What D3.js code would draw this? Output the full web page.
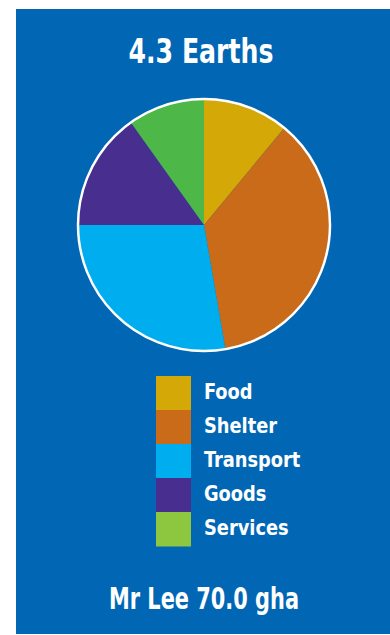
<!DOCTYPE html>
<html lang="en">
<head>
  <meta charset="UTF-8" />
  <title>Footprint pie</title>
  <style>
    body { margin: 0; background: #fff; }
    svg text { font-family: "DejaVu Sans Condensed", "DejaVu Sans", sans-serif; font-weight: bold; fill: #fff; }
  </style>
</head>
<body>
  <div id="chart"></div>
  <script src="https://d3js.org/d3.v7.min.js"></script>
  <script>
    // data (gha)
    const categories = ['Food', 'Shelter', 'Transport', 'Goods', 'Services'];
    const values = [7.7, 25.4, 19.4, 10.6, 6.9];
    const sliceColors = ['#d4a807', '#c96b19', '#00aeef', '#482e8f', '#4db848'];
    const legendColors = ['#d4a807', '#c96b19', '#00aeef', '#482e8f', '#8dc63f'];
    const title = '4.3 Earths';
    const footer = 'Mr Lee 70.0 gha';

    const width = 390, height = 635;
    const panel = { x: 16, y: 9, w: 374, h: 625 };
    const cx = 204, cy = 225, radius = 126;

    const svg = d3.select('#chart').append('svg')
      .attr('width', width)
      .attr('height', height);

    svg.append('rect')
      .attr('x', panel.x).attr('y', panel.y)
      .attr('width', panel.w).attr('height', panel.h)
      .attr('fill', '#0167b4');

    svg.append('text')
      .attr('x', 201).attr('y', 63)
      .attr('text-anchor', 'middle')
      .attr('font-size', 34)
      .attr('textLength', 145).attr('lengthAdjust', 'spacingAndGlyphs')
      .text(title);

    // pie
    const pie = d3.pie().sort(null).value(d => d);
    const arc = d3.arc().innerRadius(0).outerRadius(radius);
    const pg = svg.append('g').attr('transform', `translate(${cx},${cy})`);

    pg.selectAll('path')
      .data(pie(values))
      .enter().append('path')
        .attr('d', arc)
        .attr('fill', (d, i) => sliceColors[i]);

    pg.append('circle')
      .attr('r', radius)
      .attr('fill', 'none')
      .attr('stroke', '#fff')
      .attr('stroke-width', 2.5);

    // legend
    const y = d3.scaleBand().domain(categories).range([376, 546]);
    const lg = svg.append('g');
    lg.selectAll('rect')
      .data(categories)
      .enter().append('rect')
        .attr('x', 156)
        .attr('y', d => y(d))
        .attr('width', 35)
        .attr('height', y.bandwidth() + 0.5)
        .attr('fill', (d, i) => legendColors[i]);

    lg.selectAll('text')
      .data(categories)
      .enter().append('text')
        .attr('x', 204)
        .attr('y', d => y(d) + 22.5)
        .attr('font-size', 22)
        .text(d => d)
        .each(function() {
          // squeeze a bit, the original face is narrower
          const w = this.getComputedTextLength();
          d3.select(this).attr('textLength', w * 0.9).attr('lengthAdjust', 'spacingAndGlyphs');
        });

    svg.append('text')
      .attr('x', 204).attr('y', 609)
      .attr('text-anchor', 'middle')
      .attr('font-size', 30)
      .attr('textLength', 190).attr('lengthAdjust', 'spacingAndGlyphs')
      .text(footer);
  </script>
</body>
</html>
